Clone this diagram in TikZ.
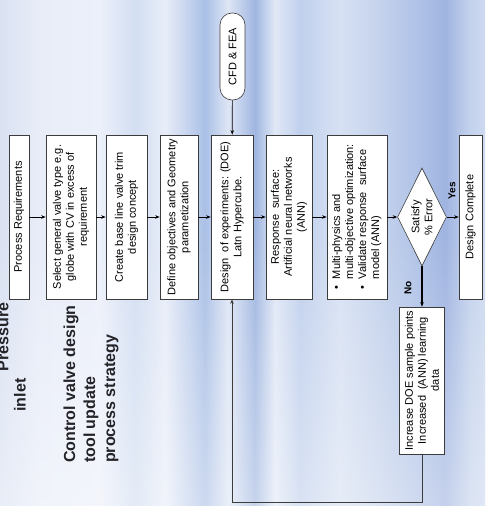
\documentclass[tikz,border=0pt]{standalone}
\usepackage{fontspec}
\setmainfont{Liberation Sans}
\usetikzlibrary{shapes.geometric,arrows.meta,fadings}
\definecolor{boxLine}{RGB}{60,60,60}
\definecolor{titleInk}{RGB}{35,35,40}
\pgfdeclarehorizontalshading{silkBlue}{100bp}{%
  rgb(0bp)=(.855,.886,.949); rgb(25bp)=(.855,.886,.949);
  rgb(29.12bp)=(.910,.929,.973); rgb(35.31bp)=(.925,.941,.980);
  rgb(38.92bp)=(.824,.871,.949); rgb(42.01bp)=(.910,.929,.973);
  rgb(46.13bp)=(.667,.753,.902); rgb(48.51bp)=(.871,.902,.961);
  rgb(51.29bp)=(.627,.714,.882); rgb(53.35bp)=(.882,.910,.965);
  rgb(55.93bp)=(.753,.816,.929); rgb(60.06bp)=(.843,.882,.953);
  rgb(64.18bp)=(.769,.824,.925); rgb(67.27bp)=(.706,.776,.910);
  rgb(70.88bp)=(.627,.706,.882); rgb(73.45bp)=(.765,.824,.925);
  rgb(75bp)=(.804,.851,.941); rgb(100bp)=(.804,.851,.941)}
\tikzset{
  stepBox/.style={draw=boxLine, line width=0.6pt, fill=white, rotate=90,
    align=center, inner sep=2pt, minimum width=164,
    font=\fontsize{11}{13}\selectfont},
  decision/.style={draw=boxLine, line width=0.6pt, fill=white, shape=diamond,
    rotate=90, inner sep=0pt, minimum width=98, minimum height=49},
  terminal/.style={draw=boxLine, line width=0.6pt, fill=white, rotate=90,
    rounded corners=12pt, minimum width=87, minimum height=25,
    font=\fontsize{11}{13}\selectfont},
  titleText/.style={rotate=90, inner sep=0pt, text=titleInk,
    font=\bfseries\fontsize{16}{20}\selectfont},
  branchText/.style={rotate=90, inner sep=0pt,
    font=\bfseries\fontsize{10}{12}\selectfont},
  arr/.style={-{Stealth[length=4.5pt,width=3.5pt]}, line width=0.7pt},
}
\begin{document}
\begin{tikzpicture}[x=1pt, y=1pt]
    % background
    \useasboundingbox (0,0) rectangle (485,-506);
    \shade[shading=silkBlue] (0,0) rectangle (485,-506);
    \fill[white, opacity=0.4, path fading=north] (0,-230) rectangle (485,-506);

    % titles
    \node[titleText] (pressure) at (3,-337) {Pressure};
    \node[titleText] (inlet) at (20,-395) {inlet};
    \node[titleText, align=left, anchor=west] (strategy) at (91,-463)
        {Control valve design\\ tool update\\ process strategy};

    % steps
    \node[stepBox, minimum height=20] (req) at (19,-217) {Process Requirements};
    \node[stepBox, minimum height=50] (sel) at (71,-217)
        {Select general valve type e.g.\\ globe with CV in excess of\\ requirement};
    \node[stepBox, minimum height=41] (base) at (126.5,-217)
        {Create base line valve trim\\ design concept};
    \node[stepBox, minimum height=38] (obj) at (179,-217)
        {Define objectives and Geometry\\ parametization};
    \node[stepBox, minimum height=42] (doe) at (232,-217)
        {Design\ \ of experiments: (DOE)\\ Latn Hypercube.};
    \node[stepBox, minimum height=46] (resp) at (289,-217)
        {Response\ \ surface:\\ Artificial neural networks\\ (ANN)};
    \node[stepBox, minimum height=60] (multi) at (357,-217)
        {\begin{tabular}{@{}l@{\hspace{7pt}}l@{}}
         \textbullet & Multi-physics and\\
                     & multi-objective optimization:\\
         \textbullet & Validate response\ \ surface\\
                     & model (ANN)
         \end{tabular}};
    \node[decision] (sat) at (422,-217) {};
    \node[rotate=90, align=center, font=\fontsize{11}{13}\selectfont] (satText) at (sat) {Satisfy\\ \% Error};
    \node[stepBox, minimum height=23] (done) at (470.5,-217) {Design Complete};
    \node[stepBox, minimum height=45, minimum width=147] (incr) at (422,-380.5)
        {Increase DOE sample points\\ Increased\ \ (ANN) learning\\ data};
    \node[terminal] (cfd) at (232.5,-56.5) {CFD \& FEA};

    % connectors
    \draw[arr] (req) -- (sel);
    \draw[arr] (sel) -- (base);
    \draw[arr] (base) -- (obj);
    \draw[arr] (obj) -- (doe);
    \draw[arr] (doe) -- (resp);
    \draw[arr] (resp) -- (multi);
    \draw[arr] (multi) -- (sat);
    \draw[arr] (sat) -- (done);
    \draw[arr, line width=1.2pt] (sat) -- (incr);
    \draw[arr] (cfd) -- (doe);
    \draw[arr, draw=boxLine] (incr.west) -- ++(0,-48) -| (doe.west);

    \node[branchText] (yes) at (452,-191) {Yes};
    \node[branchText] (no) at (408,-288) {No};
\end{tikzpicture}
\end{document}
